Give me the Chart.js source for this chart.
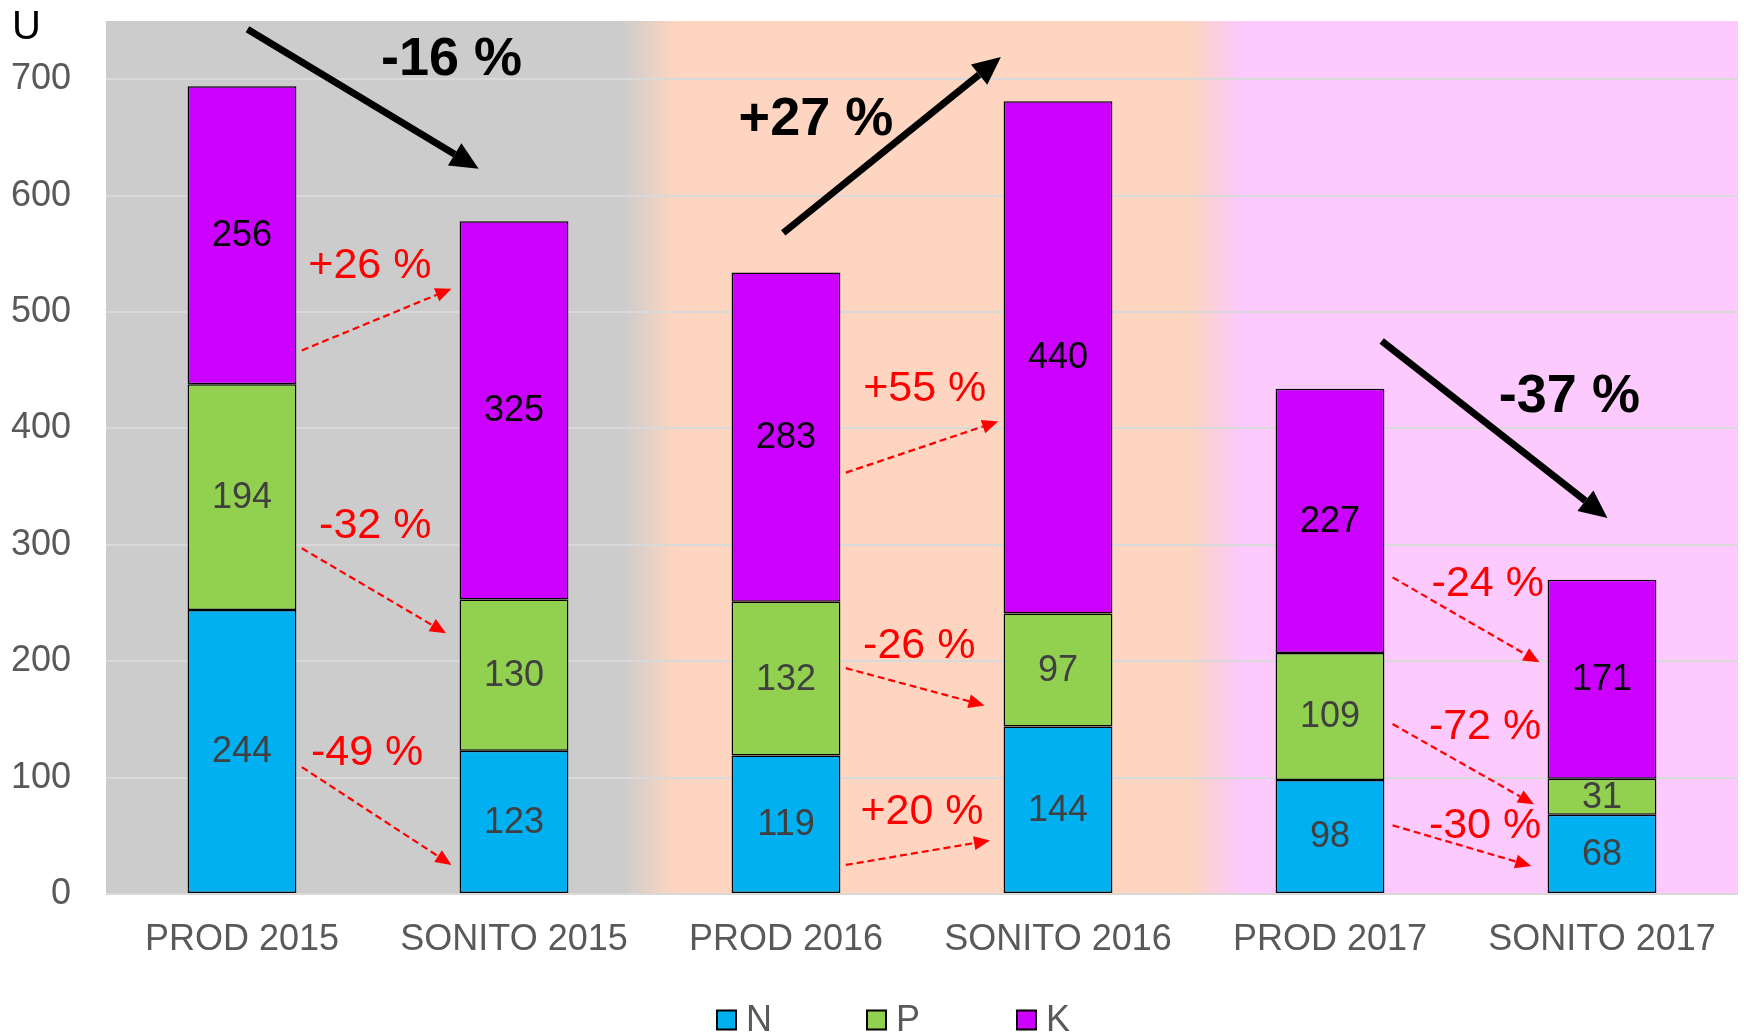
<!DOCTYPE html>
<html>
<head>
<meta charset="utf-8">
<script src="https://cdn.jsdelivr.net/npm/chart.js@4.4.1/dist/chart.umd.min.js"></script>
<style>
  html, body { margin: 0; padding: 0; background: #fff; }
  #wrap { width: 1744px; height: 1036px; }
</style>
</head>
<body>
<div id="wrap"><canvas id="npkChart" width="1744" height="1036"></canvas></div>
<script>
// ---- data ----
const categories = ["PROD 2015", "SONITO 2015", "PROD 2016", "SONITO 2016", "PROD 2017", "SONITO 2017"];
const seriesNames = ["N", "P", "K"];
const valuesN = [244, 123, 119, 144, 98, 68];
const valuesP = [194, 130, 132, 97, 109, 31];
const valuesK = [256, 325, 283, 440, 227, 171];
const yTickStep = 100;
const yMax = 750;
const unitLabel = "U";

// big black trend arrows, in (category index, value) units
const trendFrom = [[0.02, 743], [1.99, 568], [4.19, 475]];
const trendTo = [[0.87, 623], [2.79, 719], [5.02, 323]];
const trendText = ["-16 %", "+27 %", "-37 %"];
const trendTextAt = [[0.77, 716], [2.11, 665], [4.88, 427]];

// red dashed arrows between bars
const changeFrom = [[0.22, 467], [0.22, 297], [0.22, 109], [2.22, 362], [2.22, 194], [2.22, 25], [4.23, 272], [4.23, 146], [4.23, 59]];
const changeTo = [[0.77, 520], [0.75, 224], [0.77, 25], [2.78, 406], [2.73, 162], [2.75, 46], [4.77, 199], [4.75, 77], [4.74, 24]];
const changeText = ["+26 %", "-32 %", "-49 %", "+55 %", "-26 %", "+20 %", "-24 %", "-72 %", "-30 %"];
const changeTextAt = [[0.47, 539], [0.49, 316], [0.46, 121], [2.51, 434], [2.49, 213], [2.50, 70], [4.58, 266], [4.57, 143], [4.57, 58]];

// ---- styles ----
const FONT = "'Liberation Sans', Arial, sans-serif";
const colN = "#00B0F0", colP = "#92D050", colK = "#CC00FF";
const bandColors = ["#CCCCCC", "#FDD5C1", "#FCCAFC"];
const bandFades = [[1.40, 1.59], [3.49, 3.67]];

function drawArrow(ctx, x1, y1, x2, y2, headLen, headW) {
  const a = Math.atan2(y2 - y1, x2 - x1);
  const bx = x2 - headLen * Math.cos(a), by = y2 - headLen * Math.sin(a);
  ctx.beginPath();
  ctx.moveTo(x1, y1);
  ctx.lineTo(bx, by);
  ctx.stroke();
  ctx.setLineDash([]);
  ctx.beginPath();
  ctx.moveTo(x2, y2);
  ctx.lineTo(bx + headW / 2 * Math.sin(a), by - headW / 2 * Math.cos(a));
  ctx.lineTo(bx - headW / 2 * Math.sin(a), by + headW / 2 * Math.cos(a));
  ctx.closePath();
  ctx.fill();
}

const bandsPlugin = {
  id: "bands",
  beforeDraw(chart) {
    const { ctx, chartArea: a, scales: { x } } = chart;
    const w = a.right - a.left;
    const g = ctx.createLinearGradient(a.left, 0, a.right, 0);
    const stop = v => Math.min(1, Math.max(0, (x.getPixelForValue(v) - a.left) / w));
    g.addColorStop(0, bandColors[0]);
    bandFades.forEach((f, i) => {
      g.addColorStop(stop(f[0]), bandColors[i]);
      g.addColorStop(stop(f[1]), bandColors[i + 1]);
    });
    g.addColorStop(1, bandColors[bandColors.length - 1]);
    ctx.save();
    ctx.fillStyle = g;
    ctx.fillRect(a.left, a.top, w, a.bottom - a.top);
    ctx.restore();
  }
};

const labelsPlugin = {
  id: "segLabels",
  afterDatasetsDraw(chart) {
    const ctx = chart.ctx;
    ctx.save();
    ctx.font = "36px " + FONT;
    ctx.textAlign = "center";
    ctx.textBaseline = "middle";
    chart.data.datasets.forEach((ds, di) => {
      ctx.fillStyle = di === 2 ? "#000000" : "#404040";
      chart.getDatasetMeta(di).data.forEach((el, i) => {
        ctx.fillText(String(ds.data[i]), el.x, (el.y + el.base) / 2 + 1);
      });
    });
    ctx.restore();
  }
};

const notesPlugin = {
  id: "notes",
  afterDatasetsDraw(chart) {
    const { ctx, scales: { x, y } } = chart;
    const px = p => [x.getPixelForValue(p[0]), y.getPixelForValue(p[1])];
    ctx.save();
    // red dashed arrows
    ctx.strokeStyle = "#FF0000";
    ctx.fillStyle = "#FF0000";
    ctx.lineWidth = 2.2;
    changeFrom.forEach((f, i) => {
      const [x1, y1] = px(f), [x2, y2] = px(changeTo[i]);
      ctx.setLineDash([7, 4]);
      drawArrow(ctx, x1, y1, x2, y2, 16, 14);
    });
    ctx.font = "43px " + FONT;
    ctx.textAlign = "center";
    ctx.textBaseline = "middle";
    changeText.forEach((t, i) => {
      const [tx, ty] = px(changeTextAt[i]);
      ctx.fillText(t, tx, ty);
    });
    // black trend arrows
    ctx.strokeStyle = "#000000";
    ctx.fillStyle = "#000000";
    ctx.lineWidth = 7;
    trendFrom.forEach((f, i) => {
      const [x1, y1] = px(f), [x2, y2] = px(trendTo[i]);
      ctx.setLineDash([]);
      drawArrow(ctx, x1, y1, x2, y2, 28, 26);
    });
    ctx.font = "bold 54px " + FONT;
    trendText.forEach((t, i) => {
      const [tx, ty] = px(trendTextAt[i]);
      ctx.fillText(t, tx, ty);
    });
    // unit label
    ctx.font = "40px " + FONT;
    ctx.textAlign = "left";
    ctx.textBaseline = "alphabetic";
    ctx.fillStyle = "#000000";
    ctx.fillText(unitLabel, 12, 39);
    ctx.restore();
  }
};

const legendPlugin = {
  id: "customLegend",
  afterDraw(chart) {
    const ctx = chart.ctx;
    const left = 717, gap = 150, size = 19, cy = 1020;
    ctx.save();
    ctx.font = "36px " + FONT;
    ctx.textBaseline = "middle";
    ctx.textAlign = "left";
    chart.data.datasets.forEach((ds, i) => {
      const bx = left + i * gap;
      ctx.fillStyle = ds.backgroundColor;
      ctx.fillRect(bx, cy - size / 2, size, size);
      ctx.lineWidth = 2;
      ctx.strokeStyle = "#000000";
      ctx.strokeRect(bx, cy - size / 2, size, size);
      ctx.fillStyle = "#595959";
      ctx.fillText(ds.label, bx + 29, cy + 1);
    });
    ctx.restore();
  }
};

const ctx = document.getElementById("npkChart").getContext("2d");
const npkChart = new Chart(ctx, {
  type: "bar",
  data: {
    labels: categories,
    datasets: [
      { label: seriesNames[0], data: valuesN, backgroundColor: colN },
      { label: seriesNames[1], data: valuesP, backgroundColor: colP },
      { label: seriesNames[2], data: valuesK, backgroundColor: colK },
    ].map(d => Object.assign(d, {
      borderColor: "#000000",
      borderWidth: 1.5,
      borderSkipped: false,
      barPercentage: 0.4,
      categoryPercentage: 1.0,
    })),
  },
  options: {
    responsive: false,
    animation: false,
    layout: { padding: { top: 21, right: 6, left: 0, bottom: 0 } },
    plugins: {
      legend: { display: false },
      tooltip: { enabled: false },
    },
    scales: {
      x: {
        stacked: true,
        grid: { display: false, drawTicks: false },
        border: { display: false },
        ticks: {
          color: "#595959",
          padding: 24,
          maxRotation: 0,
          font: { family: FONT, size: 36 },
        },
        afterFit(scale) {
          scale.height = 142;
          scale.paddingLeft = 0;
          scale.paddingRight = 0;
        },
      },
      y: {
        stacked: true,
        min: 0,
        max: yMax,
        grid: { color: "#D9D9D9", lineWidth: 2, drawTicks: false },
        border: { display: false },
        ticks: {
          stepSize: yTickStep,
          includeBounds: false,
          color: "#595959",
          padding: 35,
          font: { family: FONT, size: 36 },
        },
        afterFit(scale) {
          scale.width = 106;
          scale.paddingTop = 0;
          scale.paddingBottom = 0;
        },
      },
    },
  },
  plugins: [bandsPlugin, labelsPlugin, notesPlugin, legendPlugin],
});
</script>
</body>
</html>
